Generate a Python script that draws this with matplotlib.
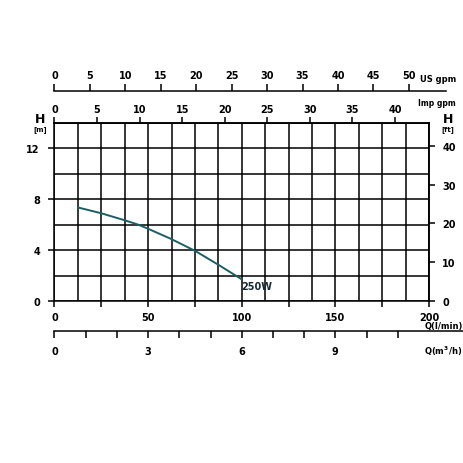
import matplotlib
matplotlib.use('Agg')
import matplotlib.pyplot as plt
import numpy as np
from matplotlib.ticker import MultipleLocator, FuncFormatter

plt.rcParams['font.family'] = ['DejaVu Sans']
plt.rcParams['font.weight'] = 'bold'

# pump curve 250W, flow in l/min, head in m
flow_lmin = [12.7, 25, 37.5, 44.8, 50, 62, 75, 87.5, 99.5]
head_m = [7.35, 6.9, 6.35, 6.0, 5.68, 4.9, 3.95, 2.85, 1.75]
curve_label = '250W'

us_gpm_ticks = [0, 5, 10, 15, 20, 25, 30, 35, 40, 45, 50]
imp_gpm_ticks = [0, 5, 10, 15, 20, 25, 30, 35, 40]
m3h_ticks = [0, 1, 2, 3, 4, 5, 6, 7, 8, 9, 10, 11]
m3h_labels = [0, 3, 6, 9]
ft_ticks = [0, 10, 20, 30, 40]
m_ticks = [0, 4, 8, 12]

LPM_US = 3.78541
LPM_IMP = 4.54609
LPM_M3H = 1000 / 60.
M_FT = 0.3048

lw = 1.1
fs = 7

fig = plt.figure(figsize=(4.64, 4.64), dpi=100)
W = H = 464.
ax = fig.add_axes([54.5 / W, (H - 302) / H, (429 - 54.5) / W, (302 - 124) / H])

ax.set_xlim(0, 200)
ax.set_ylim(0, 14)

# grid
ax.xaxis.set_minor_locator(MultipleLocator(12.5))
ax.yaxis.set_minor_locator(MultipleLocator(2))
ax.grid(which='minor', color='black', lw=lw)
ax.grid(which='major', color='black', lw=lw)
ax.set_axisbelow(True)
for s in ax.spines.values():
    s.set_linewidth(lw)

ax.xaxis.set_major_locator(MultipleLocator(25))
ax.xaxis.set_major_formatter(FuncFormatter(lambda v, p: '%d' % v if v % 50 == 0 else ''))
ax.set_yticks(m_ticks)
ax.tick_params(which='minor', length=0)
ax.tick_params(which='major', direction='out', length=4.5, width=lw, labelsize=fs, pad=3)
ax.tick_params(axis='x', which='major', length=4, pad=4)
ax.tick_params(axis='y', which='major', pad=6)

# curve
ax.plot(flow_lmin, head_m, color='#1d5e62', lw=1.4, zorder=5)
ax.text(flow_lmin[-1], head_m[-1] - 0.2, curve_label, fontsize=fs, va='top', ha='left',
        color='#1a2a30')

# right axis: ft
axr = ax.secondary_yaxis('right', functions=(lambda m: m / M_FT, lambda f: f * M_FT))
axr.set_yticks(ft_ticks)
axr.tick_params(direction='out', length=4.5, width=lw, labelsize=fs, pad=5)
axr.spines['right'].set_linewidth(lw)

# top axis: Imp gpm
axi = ax.secondary_xaxis('top', functions=(lambda q: q / LPM_IMP, lambda g: g * LPM_IMP))
axi.set_xticks(imp_gpm_ticks)
axi.tick_params(direction='out', length=4.5, width=lw, labelsize=fs, pad=2)
axi.spines['top'].set_linewidth(lw)

# US gpm axis
axu = ax.secondary_xaxis((302 - 92) / 178., functions=(lambda q: q / LPM_US, lambda g: g * LPM_US))
axu.set_xticks(us_gpm_ticks)
axu.tick_params(direction='out', length=5, width=lw, labelsize=fs, pad=3)
axu.spines['top'].set_linewidth(lw)
axu.spines['top'].set_bounds(0, 209 / LPM_US)

# m3/h axis
axm = ax.secondary_xaxis(-30 / 178., functions=(lambda q: q / LPM_M3H, lambda g: g * LPM_M3H))
axm.set_xticks(m3h_ticks)
axm.set_xticklabels([str(t) if t in m3h_labels else '' for t in m3h_ticks])
axm.tick_params(direction='out', length=5, width=lw, labelsize=fs, pad=6)
axm.spines['bottom'].set_linewidth(lw)
axm.spines['bottom'].set_bounds(0, 219 / LPM_M3H)

# axis titles
fig.text(40 / W, 1 - 120 / H, 'H', fontsize=9, ha='center', va='center')
fig.text(40 / W, 1 - 130 / H, '[m]', fontsize=5, ha='center', va='center')
fig.text(448 / W, 1 - 120 / H, 'H', fontsize=9, ha='center', va='center')
fig.text(448 / W, 1 - 130 / H, '[ft]', fontsize=5, ha='center', va='center')
fig.text(456 / W, 1 - 79 / H, 'US gpm', fontsize=6, ha='right', va='center')
fig.text(456 / W, 1 - 104 / H, 'Imp gpm', fontsize=5.5, ha='right', va='center')
fig.text(463 / W, 1 - 326.5 / H, 'Q(l/min)', fontsize=6, ha='right', va='center')
fig.text(462 / W, 1 - 351 / H, 'Q(m$^3$/h)', fontsize=6, ha='right', va='center')

fig.savefig('out.png', dpi=100, facecolor='white')
